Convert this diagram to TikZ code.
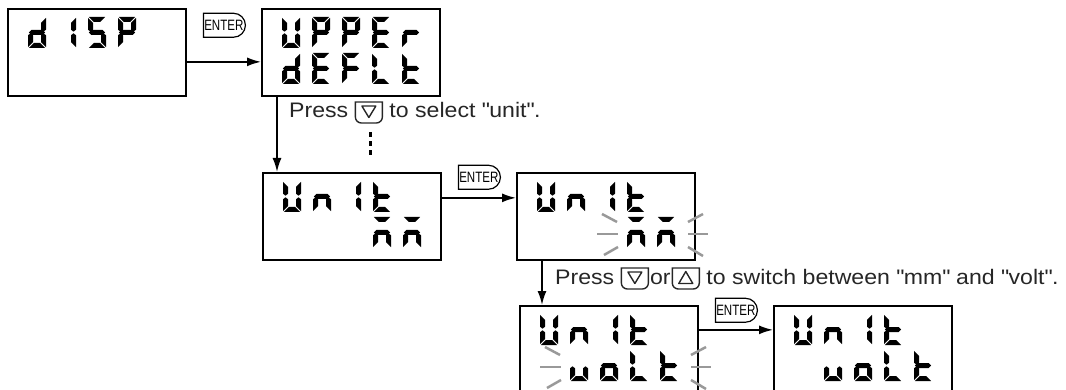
\documentclass[tikz,border=0pt]{standalone}
\usepackage{fontspec}
\setmainfont{Liberation Sans}[FakeStretch=1.1]
\usetikzlibrary{arrows.meta, shapes.misc, positioning}

% seven segment pieces of one cell, 18 wide and 31 high
\expandafter\def\csname seg:a\endcsname{\fill (0.8,0) -- (17.2,0) -- (12.2,5) -- (5.8,5) -- cycle;}
\expandafter\def\csname seg:d\endcsname{\fill (0.8,31) -- (17.2,31) -- (12.2,26) -- (5.8,26) -- cycle;}
\expandafter\def\csname seg:g\endcsname{\fill (0.8,15.5) -- (3.3,13) -- (14.7,13) -- (17.2,15.5) -- (14.7,18) -- (3.3,18) -- cycle;}
\expandafter\def\csname seg:f\endcsname{\fill (0,0.8) -- (5,5.8) -- (5,12.7) -- (2.5,14.7) -- (0,12.7) -- cycle;}
\expandafter\def\csname seg:e\endcsname{\fill (0,30.2) -- (5,25.2) -- (5,18.3) -- (2.5,16.3) -- (0,18.3) -- cycle;}
\expandafter\def\csname seg:b\endcsname{\fill (18,0.8) -- (13,5.8) -- (13,12.7) -- (15.5,14.7) -- (18,12.7) -- cycle;}
\expandafter\def\csname seg:c\endcsname{\fill (18,30.2) -- (13,25.2) -- (13,18.3) -- (15.5,16.3) -- (18,18.3) -- cycle;}

% letters as segment lists
\newcommand{\defchar}[2]{\expandafter\def\csname ch:#1\endcsname{#2}}
\defchar{d}{b,c,d,e,g}
\defchar{i}{b,c}
\defchar{S}{a,c,d,f,g}
\defchar{P}{a,b,e,f,g}
\defchar{U}{b,c,d,e,f}
\defchar{E}{a,d,e,f,g}
\defchar{r}{e,g}
\defchar{F}{a,e,f,g}
\defchar{L}{d,e,f}
\defchar{t}{d,e,f,g}
\defchar{n}{c,e,g}
\defchar{m}{a,c,e,g}
\defchar{v}{c,d,e}
\defchar{o}{c,d,e,g}

% #1 column, #2 row, #3 letter
\newcommand{\lcdchar}[3]{%
  \pgfmathsetmacro{\cx}{21+30*(#1-1)}%
  \pgfmathsetmacro{\cy}{9+36*(#2-1)}%
  \edef\seglist{\csname ch:#3\endcsname}%
  \begin{scope}[shift={(\cx,\cy)}]
    \foreach \sg in \seglist {\csname seg:\sg\endcsname}
  \end{scope}%
}
% #1 row, #2 first column, #3 letters
\newcommand{\lcdrow}[3]{\foreach \chr [count=\k from #2] in {#3} {\lcdchar{\k}{#1}{\chr}}}

% flashing marks round a group of digits
\newcommand{\blinkrays}[2]{%
  \draw[blink] ({#1-25},42) -- ({#1-10},50);
  \draw[blink] ({#1-30},62) -- ({#1-9},62);
  \draw[blink] ({#1-23},83) -- ({#1-9},75);
  \draw[blink] ({#2+12},50) -- ({#2+27},42);
  \draw[blink] ({#2+12},62) -- ({#2+32},62);
  \draw[blink] ({#2+12},75) -- ({#2+27},84);}

% operation keys inside the text
\newcommand{\dnkey}{\tikz[baseline=0pt, x=1pt, y=1pt, line width=1.4pt]{%
  \draw (0,16) -- (27,16) -- (27,1) arc[start angle=0, end angle=-90, radius=6] -- (6,-5) arc[start angle=270, end angle=180, radius=6] -- cycle;
  \draw[line join=round] (6.5,12) -- (20.5,12) -- (13.5,0.5) -- cycle;}}
\newcommand{\upkey}{\tikz[baseline=0pt, x=1pt, y=1pt, line width=1.4pt]{%
  \draw (0,16) -- (27,16) -- (27,1) arc[start angle=0, end angle=-90, radius=6] -- (6,-5) arc[start angle=270, end angle=180, radius=6] -- cycle;
  \draw[line join=round] (6.5,0.5) -- (20.5,0.5) -- (13.5,12.5) -- cycle;}}

\tikzset{
  screen/.style={draw, line width=1.7pt, minimum width=178pt, minimum height=87pt, inner sep=0pt, anchor=north west},
  flow/.style={-{Latex[length=14pt,width=9pt]}, line width=1.7pt},
  enterkey/.style={draw, line width=1.2pt, rounded rectangle, rounded rectangle left arc=none,
    minimum width=44pt, minimum height=24pt, inner sep=1pt, font=\fontsize{15}{15}\selectfont},
  hint/.style={font=\fontsize{21}{25}\selectfont, inner sep=0pt, anchor=base west, text=black!85},
  blink/.style={gray!80, line width=2.5pt},
}

\begin{document}
\begin{tikzpicture}[x=1pt, y=-1pt]
  \useasboundingbox (0,0) rectangle (1066,390);
  % the screens
  \node[screen] (disp) at (7,8) {};
  \node[screen] (upper) at (261,8) {};
  \node[screen] (unitmm) at (262,172) {};
  \node[screen] (blinkmm) at (516,172) {};
  \node[screen] (blinkvolt) at (519,305) {};
  \node[screen] (volt) at (773,305) {};

  \begin{scope}[shift={(disp.north west)}]
    \lcdrow{1}{1}{d,i,S,P}
  \end{scope}
  \begin{scope}[shift={(upper.north west)}]
    \lcdrow{1}{1}{U,P,P,E,r}
    \lcdrow{2}{1}{d,E,F,L,t}
  \end{scope}
  \begin{scope}[shift={(unitmm.north west)}]
    \lcdrow{1}{1}{U,n,i,t}
    \lcdrow{2}{4}{m,m}
  \end{scope}
  \begin{scope}[shift={(blinkmm.north west)}]
    \lcdrow{1}{1}{U,n,i,t}
    \lcdrow{2}{4}{m,m}
    \blinkrays{111}{160}
  \end{scope}
  \begin{scope}[shift={(blinkvolt.north west)}]
    \lcdrow{1}{1}{U,n,i,t}
    \lcdrow{2}{2}{v,o,L,t}
    \blinkrays{51}{160}
  \end{scope}
  \begin{scope}[shift={(volt.north west)}]
    \lcdrow{1}{1}{U,n,i,t}
    \lcdrow{2}{2}{v,o,L,t}
  \end{scope}

  % ENTER steps
  \draw[flow] ([yshift=-9.5pt]disp.east) -- node[enterkey, above=24pt] (ent1) {\scalebox{0.7}[1]{ENTER}} ([yshift=-9.5pt]disp.east -| upper.west);
  \draw[flow] ([yshift=18.5pt]unitmm.east) -- node[enterkey, above=8pt] (ent2) {\scalebox{0.7}[1]{ENTER}} ([yshift=18.5pt]unitmm.east -| blinkmm.west);
  \draw[flow] ([yshift=19.5pt]blinkvolt.east) -- node[enterkey, above=7pt] (ent3) {\scalebox{0.7}[1]{ENTER}} ([yshift=19.5pt]blinkvolt.east -| volt.west);

  % key steps
  \coordinate (down1) at ([xshift=16pt]upper.south west);
  \draw[flow] (down1) -- (down1 |- unitmm.north);
  \coordinate (down2) at ([xshift=26pt]blinkmm.south west);
  \draw[flow] (down2) -- (down2 |- blinkvolt.north);

  \node[hint] (hint1) at (289,118) {Press \dnkey\ to select \textquotedbl unit\textquotedbl.};
  \node[hint] (hint2) at (555,284) {Press \dnkey\kern1pt or\kern1pt\upkey\ to switch between \textquotedbl mm\textquotedbl\ and \textquotedbl volt\textquotedbl.};
  \fill (369,132) rectangle (372,137);
  \fill (369,141) rectangle (372,146);
  \fill (369,150) rectangle (372,155);
\end{tikzpicture}
\end{document}
